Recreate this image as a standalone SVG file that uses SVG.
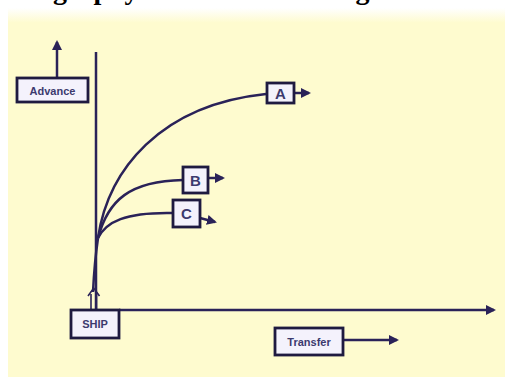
<svg xmlns="http://www.w3.org/2000/svg" width="505" height="377" viewBox="0 0 505 377">
<defs>
<style>
.ln{fill:none;stroke:#2a2258;stroke-width:2.5}
.bx{fill:#f4f2fc;stroke:#1f1a40;stroke-width:2.8}
.lb{font-family:"Liberation Sans",Arial,sans-serif;font-weight:bold;fill:#3c3a6e;text-anchor:middle}
.tt{font-family:"Liberation Serif","Times New Roman",serif;font-weight:bold;font-size:28px;fill:#000}
</style>
<linearGradient id="bg" x1="0" y1="0" x2="0" y2="1">
<stop offset="0" stop-color="#ffffff"/>
<stop offset="0.04" stop-color="#fefbcf"/>
<stop offset="1" stop-color="#fefbcf"/>
</linearGradient>
<marker id="ah" viewBox="0 0 10 10" refX="8" refY="5" markerWidth="4" markerHeight="4" orient="auto" markerUnits="strokeWidth">
<path d="M0,0 L10,5 L0,10 z" fill="#2a2258"/>
</marker>
</defs>
<rect x="0" y="0" width="505" height="377" fill="#ffffff"/>
<rect x="8" y="8" width="497" height="369" fill="url(#bg)"/>
<text class="tt" x="53" y="-1">graphy</text>
<text class="tt" x="340" y="-1">ng</text>
<g id="connectors">
<line class="ln" x1="96" y1="52" x2="96" y2="310"/>
<line class="ln" x1="119" y1="310" x2="494" y2="310" marker-end="url(#ah)"/>
<line class="ln" x1="57" y1="77" x2="57" y2="42" marker-end="url(#ah)"/>
<path class="ln" d="M93,292 Q94.5,262 98,238" stroke-width="3.2"/>
<path class="ln" d="M98,238 C108,170 160,105 266,94"/>
<path class="ln" d="M98,238 C108,200 130,181 183,180"/>
<path class="ln" d="M98,238 C106,222 125,212 173,213"/>
<line x1="91" y1="309" x2="91" y2="294" stroke="#2a2258" stroke-width="1.6"/>
<line x1="96.5" y1="309" x2="96.5" y2="294" stroke="#2a2258" stroke-width="1.6"/>
<path d="M88,296 L93.7,288 L99.5,296" fill="none" stroke="#2a2258" stroke-width="1.6"/>
<line class="ln" x1="294" y1="93" x2="309" y2="93" marker-end="url(#ah)"/>
<line class="ln" x1="208" y1="178" x2="223" y2="178" marker-end="url(#ah)"/>
<line class="ln" x1="200" y1="218" x2="215" y2="222" marker-end="url(#ah)"/>
<line class="ln" x1="343" y1="340" x2="397" y2="340" marker-end="url(#ah)"/>
</g>
<g id="advance"><rect class="bx" x="17" y="78" width="71" height="24"/><text class="lb" x="52.5" y="94.5" font-size="11">Advance</text></g>
<g id="ship"><rect class="bx" x="71" y="310" width="48" height="28"/><text class="lb" x="95" y="328" font-size="11">SHIP</text></g>
<g id="a"><rect class="bx" x="267" y="83" width="27" height="20"/><text class="lb" x="280.5" y="98.5" font-size="15">A</text></g>
<g id="b"><rect class="bx" x="183" y="167" width="25" height="26"/><text class="lb" x="195.5" y="185.5" font-size="15">B</text></g>
<g id="c"><rect class="bx" x="173" y="200" width="27" height="27"/><text class="lb" x="186.5" y="219" font-size="15">C</text></g>
<g id="transfer"><rect class="bx" x="275" y="328" width="68" height="27"/><text class="lb" x="309" y="345.5" font-size="11">Transfer</text></g>
</svg>
